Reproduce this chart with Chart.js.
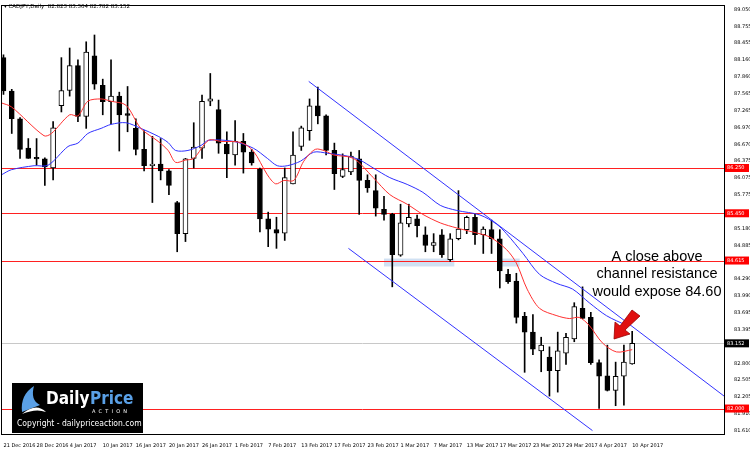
<!DOCTYPE html>
<html><head><meta charset="utf-8">
<script src="https://cdn.jsdelivr.net/npm/chart.js@4/dist/chart.umd.min.js"></script>
<style>html,body{margin:0;padding:0;background:#fff}#w{width:750px;height:450px}</style>
</head><body><div id="w"><canvas id="c"></canvas></div>
<script>
const dateLabels=["21 Dec 2016","28 Dec 2016","4 Jan 2017","10 Jan 2017","16 Jan 2017","20 Jan 2017","26 Jan 2017","1 Feb 2017","7 Feb 2017","13 Feb 2017","17 Feb 2017","23 Feb 2017","1 Mar 2017","7 Mar 2017","13 Mar 2017","17 Mar 2017","23 Mar 2017","29 Mar 2017","4 Apr 2017","10 Apr 2017"];
const priceTicks=[89.050,88.755,88.455,88.160,87.860,87.565,87.265,86.970,86.670,86.375,86.075,85.775,85.180,84.885,84.290,83.990,83.695,83.395,82.800,82.505,82.205,81.910,81.610];
const opens =[88.20,87.61,87.12,86.60,86.44,86.41,86.25,87.35,87.62,88.06,87.16,88.23,87.71,87.42,87.52,87.21,86.95,86.58,86.29,86.32,86.20,85.64,85.09,86.42,86.60,87.43,87.28,86.67,86.48,86.72,86.53,86.23,85.35,85.16,85.10,85.97,86.63,86.91,87.35,87.17,86.56,86.10,86.18,86.41,86.03,85.85,85.52,85.43,84.71,85.26,85.35,85.07,84.88,85.07,84.63,85.00,85.16,85.38,85.07,85.16,85.00,84.37,84.25,83.63,83.35,83.02,82.91,82.67,82.98,83.23,83.77,83.61,82.81,82.58,82.32,82.57,82.79];
const highs =[88.25,87.64,87.14,86.77,86.77,86.43,87.07,88.20,88.37,88.16,88.48,88.60,87.82,88.16,87.59,87.69,87.12,86.91,86.81,86.77,86.22,85.66,86.42,87.05,87.54,87.92,87.45,86.89,87.09,86.86,86.58,86.25,85.47,85.38,86.25,86.89,86.99,87.47,87.68,87.19,86.69,86.50,86.53,86.56,86.13,86.13,85.75,85.45,85.61,85.61,85.42,85.21,85.09,85.16,85.09,85.85,85.40,85.43,85.21,85.33,85.16,84.46,84.39,83.70,83.66,83.26,83.09,83.35,83.33,83.87,84.15,83.70,82.86,83.12,82.82,83.12,83.364];
const lows  =[87.55,86.86,86.42,86.42,86.30,85.94,86.04,87.24,87.52,87.07,86.95,87.64,87.19,87.03,86.55,86.89,86.48,86.20,85.64,86.04,85.78,84.77,84.95,86.25,86.42,87.35,86.51,86.08,86.30,86.16,86.30,85.12,84.86,84.83,84.97,85.97,86.56,86.74,87.03,86.48,85.87,86.08,86.13,85.43,85.82,85.40,85.33,84.15,84.69,85.21,85.03,84.77,84.77,84.67,84.60,84.98,85.09,84.90,84.74,84.74,84.13,84.21,83.51,82.64,82.95,82.65,82.22,82.29,82.78,83.18,83.59,82.78,82.00,82.31,82.05,82.06,82.782];
const closes=[87.61,87.12,86.58,86.42,86.41,86.27,86.96,87.62,88.06,87.16,88.30,87.73,87.42,87.52,87.19,87.19,86.58,86.29,86.32,86.20,85.94,85.09,86.41,86.62,87.43,87.47,86.69,86.50,86.72,86.53,86.34,85.35,85.17,85.10,86.08,86.48,86.96,87.35,87.17,86.56,86.15,86.22,86.46,86.03,85.90,85.54,85.43,84.72,85.28,85.38,85.23,84.88,84.93,84.72,85.00,85.17,85.38,85.07,85.17,85.00,84.43,84.24,83.61,83.35,83.05,83.12,82.67,83.02,83.26,83.80,83.59,82.81,82.57,82.32,82.57,82.82,83.152];
const maFastX=[-0.24,0.96,4.9,5.8,8.0,9.0,10.2,11.8,13.0,14.8,16.6,18.7,19.9,20.8,22.0,23.0,24.8,26.3,28.7,30.2,31.9,32.9,33.9,35.1,36.3,37.7,38.9,39.9,42.3,44.7,46.7,48.8,50.7,52.8,54.8,56.7,58.8,60.8,62.0,63.3,64.8,66.9,68.4,69.6,70.8,72.4,74.1,76.0];
const maFastY=[87.40,87.33,86.82,86.86,87.19,87.17,87.43,87.47,87.43,87.36,86.95,86.72,86.56,86.35,86.39,86.42,86.74,86.72,86.70,86.55,86.13,85.97,86.03,86.03,86.37,86.58,86.55,86.48,86.42,86.08,85.78,85.61,85.43,85.28,85.19,85.12,85.03,84.81,84.57,84.11,83.77,83.64,83.59,83.61,83.47,83.16,83.00,83.04];
const maSlowX=[-0.24,0.96,3.7,5.4,7.8,9.0,10.2,11.8,13.0,14.8,16.6,18.7,19.9,20.8,22.3,23.9,24.8,27.8,30.2,31.9,33.1,34.3,35.9,37.5,39.2,41.6,43.1,44.7,46.7,48.8,50.7,52.8,54.8,57.6,59.6,60.8,62.8,64.8,66.9,68.8,70.8,72.9,75.3];
const maSlowY=[86.13,86.22,86.29,86.30,86.63,86.69,86.86,86.95,87.02,87.05,86.95,86.81,86.70,86.56,86.56,86.65,86.74,86.72,86.60,86.42,86.29,86.29,86.37,86.53,86.51,86.46,86.39,86.25,86.08,85.96,85.82,85.59,85.50,85.42,85.26,85.09,84.74,84.37,84.21,84.11,83.87,83.64,83.47];
const levels=[86.250,85.450,84.615,82.000];
const lastPrice=83.152;
const chanUpper=[[36.9,87.78],[87.2,82.21]];
const chanLower=[[41.7,84.83],[71.2,81.61]];
const zones=[[46.0,54.5,84.65,84.51],[60.2,62.4,84.65,84.51]];

const idx=opens.map((_,i)=>i);
const bull=idx.map(i=>closes[i]>=opens[i]);
const wickData=idx.map(i=>({x:i,y:[lows[i],highs[i]]}));
const bodyData=idx.map(i=>{let a=opens[i],b=closes[i];if(Math.abs(a-b)<0.03){b=a+(b>=a?0.03:-0.03);}return {x:i,y:[a,b]};});

const overlay={id:'overlay',
 beforeDatasetsDraw(ch){const {ctx,chartArea:a,scales:{x,y}}=ch;ctx.save();
  ctx.beginPath();ctx.rect(a.left,a.top,a.right-a.left,a.bottom-a.top);ctx.clip();
  ctx.fillStyle='rgba(120,170,220,0.35)';
  zones.forEach(z=>{const x1=x.getPixelForValue(z[0]),x2=x.getPixelForValue(z[1]),y1=y.getPixelForValue(z[2]),y2=y.getPixelForValue(z[3]);ctx.fillRect(x1,y1,x2-x1,y2-y1);});
  ctx.strokeStyle='#c8c8c8';ctx.lineWidth=1;const yp=Math.round(y.getPixelForValue(lastPrice))+0.5;ctx.beginPath();ctx.moveTo(a.left,yp);ctx.lineTo(a.right,yp);ctx.stroke();
  ctx.strokeStyle='#ff2020';levels.forEach(v=>{const p=Math.round(y.getPixelForValue(v))+0.5;ctx.beginPath();ctx.moveTo(a.left,p);ctx.lineTo(a.right,p);ctx.stroke();});
  ctx.restore();},
 afterDatasetsDraw(ch){const {ctx,chartArea:a,scales:{x,y}}=ch;ctx.save();
  ctx.beginPath();ctx.rect(a.left,a.top,a.right-a.left,a.bottom-a.top);ctx.clip();
  ctx.strokeStyle='#3333ff';ctx.lineWidth=1;
  [chanUpper,chanLower].forEach(c=>{ctx.beginPath();ctx.moveTo(x.getPixelForValue(c[0][0]),y.getPixelForValue(c[0][1]));ctx.lineTo(x.getPixelForValue(c[1][0]),y.getPixelForValue(c[1][1]));ctx.stroke();});
  ctx.fillStyle='#000';ctx.font='14.5px "Liberation Sans", Arial';ctx.textAlign='center';ctx.textBaseline='middle';
  ctx.fillText('A close above',657,257);ctx.fillText('channel resistance',657,274);ctx.fillText('would expose 84.60',657,292);
  ctx.fillStyle='#e01010';ctx.strokeStyle='#900';ctx.lineWidth=0.8;ctx.beginPath();
  ctx.moveTo(640,316);ctx.lineTo(632,310);ctx.lineTo(620,326);ctx.lineTo(615,322);ctx.lineTo(614,339);ctx.lineTo(630,334);ctx.lineTo(625,330);ctx.closePath();ctx.fill();ctx.stroke();
  ctx.fillStyle='#000';ctx.fillRect(12,383,131,50);
  ctx.fillStyle='#5aa0e6';ctx.beginPath();ctx.moveTo(22,412);ctx.quadraticCurveTo(20,395,34,386);ctx.quadraticCurveTo(30,400,40,405);ctx.closePath();ctx.fill();
  ctx.fillStyle='#fff';ctx.beginPath();ctx.moveTo(22,414);ctx.quadraticCurveTo(36,402,46,412);ctx.quadraticCurveTo(36,408,22,414);ctx.fill();
  ctx.textAlign='left';ctx.font='bold 17px "DejaVu Sans Condensed","DejaVu Sans"';ctx.fillStyle='#fff';ctx.fillText('Daily',46,400);
  ctx.fillStyle='#5aa0e6';ctx.fillText('Price',90,400);
  ctx.fillStyle='#fff';ctx.font='5px "DejaVu Sans"';ctx.fillText('A  C  T  I  O  N',92,412);
  ctx.font='8.5px "DejaVu Sans Condensed","DejaVu Sans"';ctx.fillText('Copyright - dailypriceaction.com',17,424);
  ctx.restore();
  ctx.save();ctx.fillStyle='#000';ctx.font='5.5px "DejaVu Sans"';ctx.textAlign='left';ctx.textBaseline='middle';
  ctx.fillText('\u25BE CADJPY,Daily  82.823 83.364 82.782 83.152',4,7);
  ctx.font='5px "DejaVu Sans"';
  const box=(v,bg,t)=>{const p=y.getPixelForValue(v);ctx.fillStyle=bg;ctx.fillRect(a.right+1,p-4,24,8);ctx.fillStyle='#fff';ctx.fillText(t,a.right+3,p);};
  levels.forEach(v=>box(v,'#ff0000',v.toFixed(3)));box(lastPrice,'#000','83.152');
  ctx.strokeStyle='#000';ctx.lineWidth=1;ctx.strokeRect(a.left+0.5,a.top+0.5,a.right-a.left,a.bottom-a.top);
  ctx.restore();}
};

new Chart(document.getElementById('c'),{
 data:{datasets:[
  {type:'line',data:maFastX.map((v,i)=>({x:v,y:maFastY[i]})),borderColor:'#ff3030',borderWidth:1,pointRadius:0,tension:0.3,order:0},
  {type:'line',data:maSlowX.map((v,i)=>({x:v,y:maSlowY[i]})),borderColor:'#3030ff',borderWidth:1,pointRadius:0,tension:0.3,order:0},
  {type:'bar',data:wickData,backgroundColor:'#000',barThickness:1,grouped:false,order:2},
  {type:'bar',data:bodyData,backgroundColor:bull.map(b=>b?'#fff':'#000'),borderColor:'#000',borderWidth:1,borderSkipped:false,barThickness:5,grouped:false,order:1}
 ]},
 plugins:[overlay],
 options:{responsive:true,maintainAspectRatio:false,animation:false,
  layout:{padding:{top:2,left:1,right:0,bottom:0}},
  plugins:{legend:{display:false},tooltip:{enabled:false}},
  scales:{
   x:{type:'linear',offset:false,min:-0.3,max:87.1,grid:{display:false},border:{display:false},
      afterBuildTicks(s){s.ticks=dateLabels.map((_,i)=>({value:i*4}));},
      ticks:{autoSkip:false,maxRotation:0,align:'start',padding:1,color:'#000',font:{size:5,family:'DejaVu Sans'},callback:(v)=>dateLabels[v/4]}},
   y:{position:'right',min:81.55,max:89.13,grid:{display:false},border:{display:false},
      afterBuildTicks(s){s.ticks=priceTicks.map(v=>({value:v}));},
      afterFit(s){s.width=26;},
      ticks:{autoSkip:false,color:'#000',padding:2,font:{size:5,family:'DejaVu Sans'},callback:v=>v.toFixed(3)}}
  }}
});
</script></body></html>
